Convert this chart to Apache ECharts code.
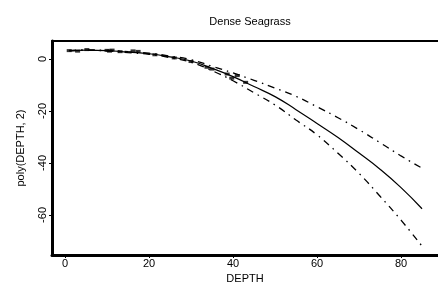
<!DOCTYPE html>
<html>
<head>
  <meta charset="utf-8">
  <script src="https://cdn.jsdelivr.net/npm/echarts@6/dist/echarts.min.js"></script>
</head>
<style>
  html, body { margin: 0; padding: 0; background: #fff; }
</style>
<body>
  <div id="main" style="width: 438px;height:295px;"></div>
  <script>
    // values
    var depthTicks = [0, 20, 40, 60, 80];
    var valueTicks = [0, -20, -40, -60];

    var fitDepth = [1, 5, 10, 15, 20, 25, 30, 35, 40, 45, 50, 55, 60, 65, 70, 75, 80, 85];
    var fitValue = [3.2, 3.4, 3.2, 2.6, 2.0, 0.8, -0.8, -3.6, -6.8, -10.6, -14.5, -19.5, -24.8, -30.2, -36.2, -42.4, -49.5, -57.6];
    var upperValue = [3.3, 3.5, 3.3, 2.8, 2.2, 1.1, -0.3, -2.8, -5.4, -8.2, -11.2, -14.4, -18.4, -22.6, -27.2, -32.2, -37.3, -42.0];
    var lowerValue = [3.1, 3.3, 3.1, 2.4, 1.8, 0.5, -1.3, -4.5, -8.4, -13.0, -17.7, -23.5, -29.2, -36.3, -44.0, -52.8, -62.0, -72.0];

    var pointDepth = [1, 3, 5.2, 10, 10.6, 11.2, 13.1, 16.2, 17.4, 21.4, 26, 30, 33.8, 35, 38.6, 39.7, 41, 43];
    var pointValue = [3.2, 3.0, 3.6, 3.3, 3.0, 3.4, 2.8, 3.1, 2.9, 1.6, 0.4, -1.0, -3.2, -3.9, -5.8, -7.4, -6.4, -9.0];

    function pairs(xs, ys) {
      var out = [];
      for (var i = 0; i < xs.length; i++) out.push([xs[i], ys[i]]);
      return out;
    }

    var font = 'Liberation Sans';
    var myChart = echarts.init(document.getElementById('main'));

    var option = {
      animation: false,
      backgroundColor: '#fff',
      title: {
        text: 'Dense Seagrass',
        left: 245,
        top: 11,
        textAlign: 'center',
        textStyle: { fontFamily: font, fontSize: 11, fontWeight: 'normal', color: '#000' }
      },
      grid: { left: 52, right: 0, top: 41, bottom: 40 },
      xAxis: [{
        type: 'value',
        min: -3.1,
        max: 88.8,
        name: 'DEPTH',
        nameLocation: 'middle',
        nameGap: 17,
        nameTextStyle: { fontFamily: font, fontSize: 11, color: '#000' },
        axisLine: { show: true, onZero: false, lineStyle: { color: '#000', width: 3 } },
        axisTick: { show: true, customValues: depthTicks, length: 3, lineStyle: { color: '#000' } },
        axisLabel: { customValues: depthTicks, fontFamily: font, fontSize: 11, color: '#000', margin: 3 },
        splitLine: { show: false }
      }, {
        type: 'value',
        position: 'top',
        min: -3.1,
        max: 88.8,
        axisLine: { show: true, onZero: false, lineStyle: { color: '#000', width: 2 } },
        axisTick: { show: false },
        axisLabel: { show: false },
        splitLine: { show: false }
      }],
      yAxis: {
        type: 'value',
        min: -75.4,
        max: 6.9,
        name: 'poly(DEPTH, 2)',
        nameLocation: 'middle',
        nameGap: 26,
        nameTextStyle: { fontFamily: font, fontSize: 11, color: '#000' },
        axisLine: { show: true, onZero: false, lineStyle: { color: '#000', width: 3 } },
        axisTick: { show: true, customValues: valueTicks, length: 3, lineStyle: { color: '#000' } },
        axisLabel: { customValues: valueTicks, rotate: 90, fontFamily: font, fontSize: 11, color: '#000', margin: 4 },
        splitLine: { show: false }
      },
      series: [{
        type: 'line',
        data: pairs(fitDepth, fitValue),
        smooth: true,
        showSymbol: false,
        lineStyle: { color: '#000', width: 1.2 }
      }, {
        type: 'line',
        data: pairs(fitDepth, upperValue),
        smooth: true,
        showSymbol: false,
        lineStyle: { color: '#000', width: 1.3, type: [7, 5, 1.5, 5] }
      }, {
        type: 'line',
        data: pairs(fitDepth, lowerValue),
        smooth: true,
        showSymbol: false,
        lineStyle: { color: '#000', width: 1.3, type: [7, 5, 1.5, 5] }
      }, {
        type: 'scatter',
        data: pairs(pointDepth, pointValue),
        symbol: 'rect',
        symbolSize: [5, 3],
        itemStyle: { color: '#000' }
      }]
    };

    myChart.setOption(option);
  </script>
</body>
</html>
